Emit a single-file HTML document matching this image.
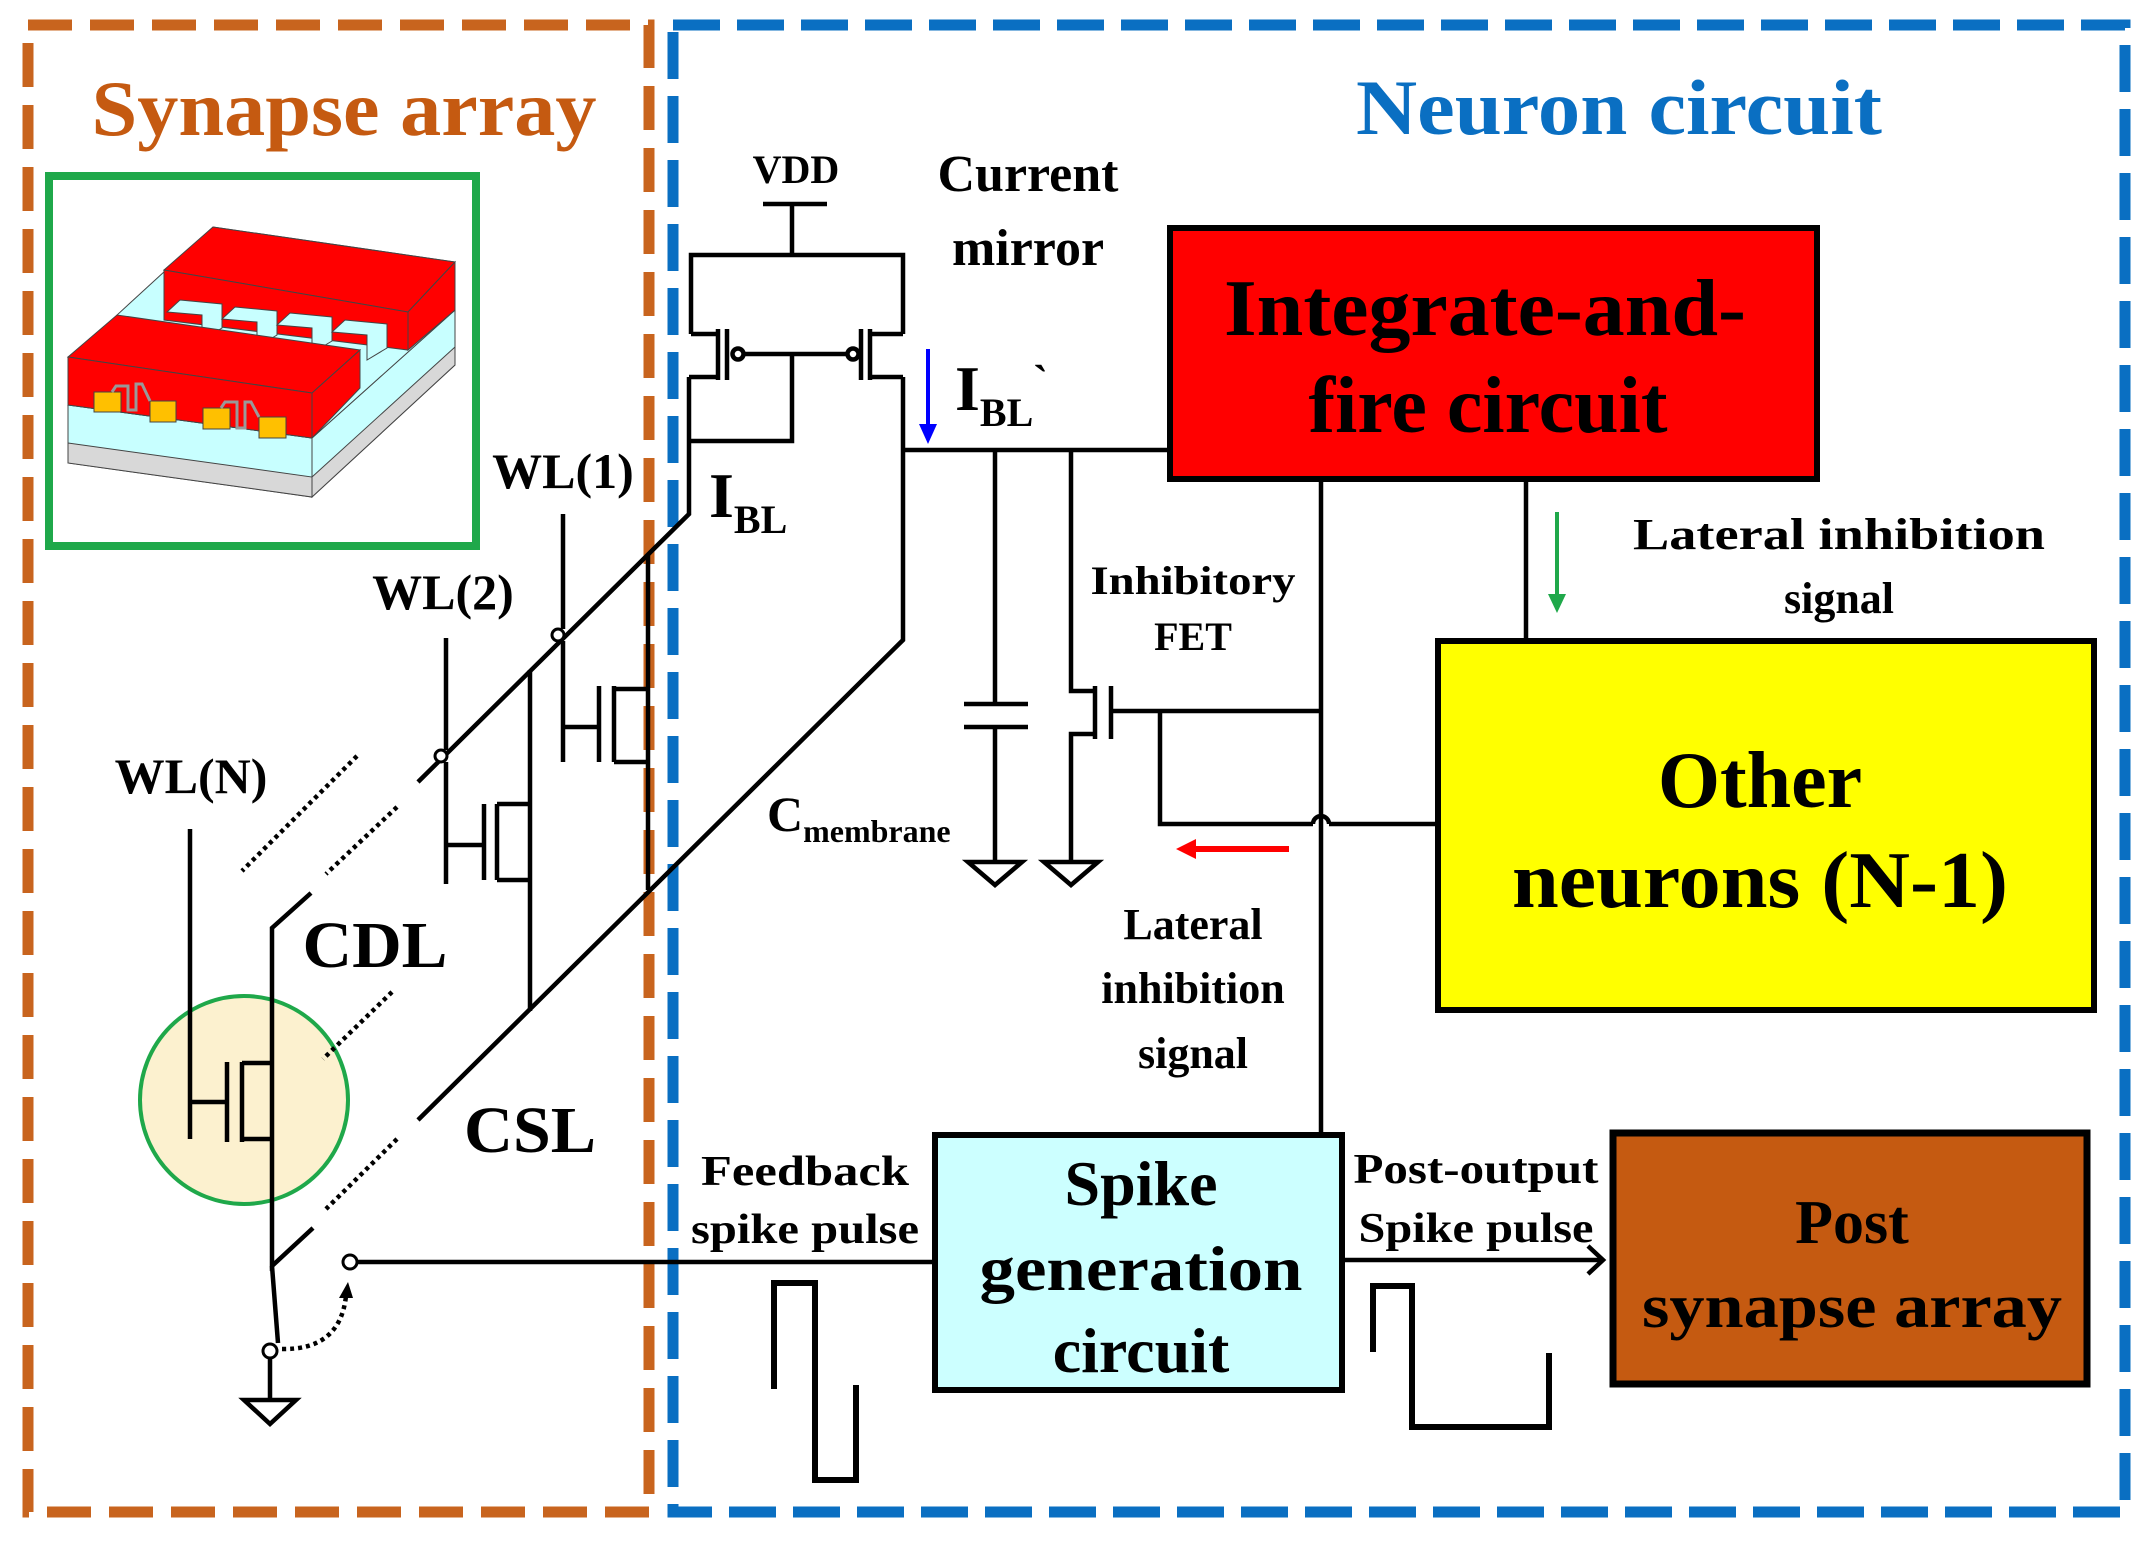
<!DOCTYPE html>
<html><head><meta charset="utf-8"><style>
html,body{margin:0;padding:0;background:#fff;}
svg{display:block;}
text{font-family:"Liberation Serif",serif;font-weight:bold;fill:#000;}
</style></head><body>
<svg width="2134" height="1545" viewBox="0 0 2134 1545" xmlns="http://www.w3.org/2000/svg">
<!-- dashed frames -->
<rect x="28" y="25" width="621" height="1487" fill="none" stroke="#c8641e" stroke-width="11" stroke-dasharray="44 18"/>
<rect x="673" y="25" width="1452" height="1487" fill="none" stroke="#0a6fc2" stroke-width="11" stroke-dasharray="47 17"/>

<text x="344" y="135" font-size="78" text-anchor="middle" style="fill:#c55a11" textLength="505" lengthAdjust="spacingAndGlyphs">Synapse array</text>
<text x="1619" y="134" font-size="78" text-anchor="middle" style="fill:#0a6fc2" textLength="526" lengthAdjust="spacingAndGlyphs">Neuron circuit</text>

<!-- green box with device -->
<rect x="49" y="176" width="427" height="370" fill="#fff" stroke="#1fa84a" stroke-width="8"/>
<g stroke="#444" stroke-width="1">
<polygon points="68,405 312,438 312,497 68,463" fill="#c8ffff"/>
<polygon points="68,443 312,477 312,497 68,463" fill="#d8d8d8"/>
<polygon points="312,438 455,310 455,365 312,497" fill="#c8ffff"/>
<polygon points="312,477 455,347 455,365 312,497" fill="#d8d8d8"/>
<polygon points="68,405 117,315 213,227 455,262 455,310 312,438" fill="#c8ffff"/>
<polygon points="164,270 213,227 455,262 408,312" fill="#ff0000"/>
<polygon points="164,270 408,312 408,350 164,320" fill="#ff0000"/>
<polygon points="408,312 455,262 455,310 408,350" fill="#ff0000"/>
<polygon points="180,300 222,304 222,328 202,340 202,315 167,312" fill="#c8ffff"/>
<polygon points="235,307 277,311 277,335 257,347 257,322 222,319" fill="#c8ffff"/>
<polygon points="290,313 332,317 332,341 312,353 312,328 277,325" fill="#c8ffff"/>
<polygon points="345,320 387,324 387,348 367,360 367,335 332,332" fill="#c8ffff"/>
<polygon points="68,357 117,315 360,350 312,393" fill="#ff0000"/>
<polygon points="68,357 312,393 312,438 68,405" fill="#ff0000"/>
<polygon points="312,393 360,350 360,388 312,438" fill="#ff0000"/>
<rect x="94" y="392" width="27" height="20" fill="#ffc000"/>
<rect x="150" y="401" width="26" height="21" fill="#ffc000"/>
<rect x="203" y="408" width="27" height="21" fill="#ffc000"/>
<rect x="259" y="417" width="27" height="21" fill="#ffc000"/>
<polyline points="112,392 116,386 128,386 128,410 136,410 136,384 142,384 150,401" fill="none" stroke="#999" stroke-width="3"/>
<polyline points="221,408 225,402 237,402 237,428 245,428 245,402 251,402 259,417" fill="none" stroke="#999" stroke-width="3"/>
</g>

<!-- circle highlight (behind transistor) -->
<circle cx="244" cy="1100" r="104" fill="#fcf1cf" stroke="#1fa84a" stroke-width="4"/>

<g stroke="#000" stroke-width="4.5" fill="none">
<!-- current mirror -->
<line x1="763" y1="204" x2="827" y2="204"/>
<line x1="792" y1="204" x2="792" y2="255"/>
<polyline points="691,334 691,255 903,255 903,334"/>
<line x1="691" y1="334" x2="718" y2="334"/>
<line x1="718" y1="329" x2="718" y2="380"/>
<line x1="727" y1="329" x2="727" y2="380"/>
<circle cx="738" cy="354" r="5.5"/>
<line x1="744" y1="354" x2="847" y2="354"/>
<circle cx="853" cy="354" r="5.5"/>
<line x1="861" y1="329" x2="861" y2="380"/>
<line x1="870" y1="329" x2="870" y2="380"/>
<line x1="870" y1="334" x2="903" y2="334"/>
<line x1="689" y1="377" x2="718" y2="377"/>
<line x1="870" y1="377" x2="903" y2="377"/>
<polyline points="792,354 792,441 689,441"/>
<polyline points="689,377 689,514 418,782"/>
<polyline points="903,377 903,640 418,1120"/>
<line x1="903" y1="450" x2="1169" y2="450"/>
<!-- capacitor -->
<line x1="995" y1="450" x2="995" y2="704"/>
<line x1="964" y1="704" x2="1028" y2="704"/>
<line x1="964" y1="727" x2="1028" y2="727"/>
<line x1="995" y1="727" x2="995" y2="862"/>
<polygon points="968,862 1022,862 995,885"/>
<!-- inhibitory FET -->
<polyline points="1071,450 1071,691 1095,691"/>
<line x1="1095" y1="686" x2="1095" y2="739"/>
<line x1="1111" y1="686" x2="1111" y2="739"/>
<polyline points="1095,734 1071,734 1071,862"/>
<polygon points="1044,862 1098,862 1071,885"/>
<line x1="1111" y1="711" x2="1321" y2="711"/>
<polyline points="1160,711 1160,824 1313,824"/>
<path d="M1313,824 A8,8 0 0 1 1329,824"/>
<line x1="1329" y1="824" x2="1438" y2="824"/>
<line x1="1321" y1="479" x2="1321" y2="1135"/>
<line x1="1526" y1="479" x2="1526" y2="641"/>
<!-- synapse array -->
<line x1="648" y1="555" x2="648" y2="890"/>
<line x1="563" y1="514" x2="563" y2="629"/>
<line x1="563" y1="641" x2="563" y2="762"/>
<line x1="563" y1="727" x2="599" y2="727"/>
<line x1="599" y1="686" x2="599" y2="762"/>
<line x1="614" y1="686" x2="614" y2="762"/>
<line x1="614" y1="689" x2="648" y2="689"/>
<line x1="614" y1="762" x2="648" y2="762"/>
<line x1="446" y1="638" x2="446" y2="750"/>
<line x1="446" y1="762" x2="446" y2="884"/>
<line x1="446" y1="845" x2="484" y2="845"/>
<line x1="484" y1="804" x2="484" y2="880"/>
<line x1="497" y1="804" x2="497" y2="880"/>
<line x1="497" y1="804" x2="530" y2="804"/>
<line x1="497" y1="880" x2="530" y2="880"/>
<line x1="530" y1="670" x2="530" y2="1011"/>
<line x1="190" y1="829" x2="190" y2="1139"/>
<line x1="190" y1="1102" x2="227" y2="1102"/>
<line x1="227" y1="1062" x2="227" y2="1142"/>
<line x1="242" y1="1062" x2="242" y2="1142"/>
<polyline points="242,1063 272,1063"/>
<polyline points="242,1139 272,1139"/>
<polyline points="311,893 272,928 272,1266 313,1228"/>
<line x1="272" y1="1266" x2="278" y2="1343"/>
<line x1="270" y1="1357" x2="270" y2="1400"/>
<polygon points="244,1400 296,1400 270,1424"/>
<line x1="356" y1="1262" x2="935" y2="1262"/>
<line x1="1342" y1="1260" x2="1600" y2="1260"/>
<polyline points="1588,1246 1603,1260 1588,1274"/>
<!-- pulses -->
<polyline points="774,1389 774,1283 815,1283 815,1480 856,1480 856,1385" stroke-width="6"/>
<polyline points="1373,1352 1373,1286 1412,1286 1412,1427 1549,1427 1549,1353" stroke-width="6"/>
</g>
<g fill="#fff" stroke="#000" stroke-width="3">
<circle cx="558" cy="635" r="6"/>
<circle cx="441" cy="756" r="6"/>
<circle cx="270" cy="1351" r="7"/>
<circle cx="350" cy="1262" r="7"/>
</g>
<!-- dotted lines -->
<g stroke="#000" stroke-width="4.5" stroke-dasharray="4 4" fill="none">
<line x1="357" y1="756" x2="242" y2="871"/>
<line x1="397" y1="807" x2="326" y2="874"/>
<line x1="392" y1="992" x2="323" y2="1059"/>
<line x1="397" y1="1139" x2="326" y2="1209"/>
<path d="M282,1349 Q340,1350 346,1296"/>
</g>
<polygon points="339,1298 353,1298 348,1282" fill="#000"/>

<!-- boxes -->
<rect x="1170" y="228" width="647" height="251" fill="#ff0000" stroke="#000" stroke-width="6"/>
<rect x="1438" y="641" width="656" height="369" fill="#ffff00" stroke="#000" stroke-width="6"/>
<rect x="935" y="1135" width="407" height="255" fill="#ccffff" stroke="#000" stroke-width="6"/>
<rect x="1613" y="1133" width="474" height="251" fill="#c55a11" stroke="#000" stroke-width="7"/>

<!-- arrows -->
<line x1="928" y1="349" x2="928" y2="428" stroke="#0000ff" stroke-width="4"/>
<polygon points="919,424 937,424 928,444" fill="#0000ff"/>
<line x1="1557" y1="512" x2="1557" y2="598" stroke="#1fa84a" stroke-width="4"/>
<polygon points="1548,594 1566,594 1557,613" fill="#1fa84a"/>
<line x1="1195" y1="849" x2="1289" y2="849" stroke="#ff0000" stroke-width="6"/>
<polygon points="1196,839 1196,859 1176,849" fill="#ff0000"/>

<!-- text -->
<text x="796" y="183" font-size="40" text-anchor="middle">VDD</text>
<text x="1028" y="191" font-size="52" text-anchor="middle">Current</text>
<text x="1028" y="265" font-size="52" text-anchor="middle">mirror</text>
<text x="955" y="410" font-size="64">I<tspan font-size="40" dy="16">BL</tspan><tspan dy="-30" font-size="44">`</tspan></text>
<text x="709" y="517" font-size="64">I<tspan font-size="40" dy="16">BL</tspan></text>
<text x="1485" y="335" font-size="80" text-anchor="middle" textLength="522" lengthAdjust="spacingAndGlyphs">Integrate-and-</text>
<text x="1488" y="432" font-size="80" text-anchor="middle">fire circuit</text>
<text x="1839" y="549" font-size="44" text-anchor="middle" textLength="412" lengthAdjust="spacingAndGlyphs">Lateral inhibition</text>
<text x="1839" y="613" font-size="44" text-anchor="middle">signal</text>
<text x="1193" y="594" font-size="40" text-anchor="middle" textLength="205" lengthAdjust="spacingAndGlyphs">Inhibitory</text>
<text x="1193" y="650" font-size="40" text-anchor="middle">FET</text>
<text x="1760" y="807" font-size="80" text-anchor="middle">Other</text>
<text x="1760" y="907" font-size="80" text-anchor="middle" textLength="496" lengthAdjust="spacingAndGlyphs">neurons (N-1)</text>
<text x="767" y="831" font-size="50">C<tspan font-size="32" dy="11">membrane</tspan></text>
<text x="1193" y="939" font-size="44" text-anchor="middle">Lateral</text>
<text x="1193" y="1003" font-size="44" text-anchor="middle">inhibition</text>
<text x="1193" y="1068" font-size="44" text-anchor="middle">signal</text>
<text x="563" y="488" font-size="50" text-anchor="middle">WL(1)</text>
<text x="443" y="609" font-size="50" text-anchor="middle">WL(2)</text>
<text x="191" y="793" font-size="50" text-anchor="middle">WL(N)</text>
<text x="375" y="967" font-size="66" text-anchor="middle" textLength="145" lengthAdjust="spacingAndGlyphs">CDL</text>
<text x="530" y="1152" font-size="66" text-anchor="middle" textLength="132" lengthAdjust="spacingAndGlyphs">CSL</text>
<text x="805" y="1185" font-size="42" text-anchor="middle" textLength="208" lengthAdjust="spacingAndGlyphs">Feedback</text>
<text x="805" y="1243" font-size="42" text-anchor="middle" textLength="228" lengthAdjust="spacingAndGlyphs">spike pulse</text>
<text x="1141" y="1205" font-size="64" text-anchor="middle">Spike</text>
<text x="1141" y="1290" font-size="64" text-anchor="middle" textLength="323" lengthAdjust="spacingAndGlyphs">generation</text>
<text x="1141" y="1372" font-size="64" text-anchor="middle">circuit</text>
<text x="1476" y="1183" font-size="42" text-anchor="middle" textLength="245" lengthAdjust="spacingAndGlyphs">Post-output</text>
<text x="1476" y="1242" font-size="42" text-anchor="middle" textLength="235" lengthAdjust="spacingAndGlyphs">Spike pulse</text>
<text x="1852" y="1243" font-size="62" text-anchor="middle">Post</text>
<text x="1852" y="1327" font-size="62" text-anchor="middle" textLength="420" lengthAdjust="spacingAndGlyphs">synapse array</text>
</svg>
</body></html>
